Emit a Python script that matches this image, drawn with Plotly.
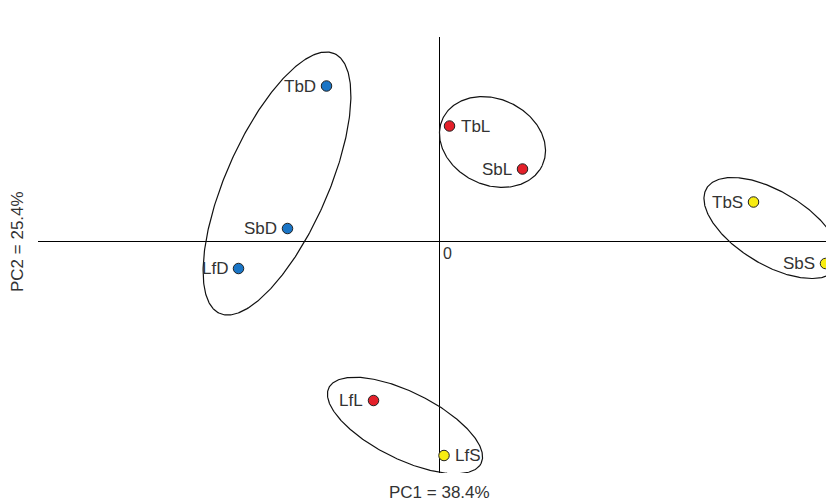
import numpy as np
import plotly.graph_objects as go

# ---- data (arbitrary PCA score units) ----
labels = ["TbD", "SbD", "LfD", "TbL", "SbL", "LfL", "TbS", "SbS", "LfS"]
pc1 = [-2.25, -3.03, -4.01, 0.21, 1.67, -1.31, 6.29, 7.73, 0.10]
pc2 = [3.11, 0.26, -0.54, 2.31, 1.45, -3.18, 0.79, -0.44, -4.28]
groups = ["D", "D", "D", "L", "L", "L", "S", "S", "S"]
label_side = ["left", "left", "left", "right", "left", "left", "left", "left", "right"]
group_colors = {"D": "#1a75c6", "L": "#e4202a", "S": "#f8ec12"}

# ellipses: centre, semi-axes and orientation (degrees)
ell_cx = [-3.24, 1.07, 6.66, -0.68]
ell_cy = [1.16, 1.99, 0.27, -3.68]
ell_a = [2.84, 1.10, 1.53, 1.70]
ell_b = [1.02, 0.86, 0.73, 0.67]
ell_ang = [66.2, -25.2, -31.3, -26.4]

x_title = "PC1 = 38.4%"
y_title = "PC2 = 25.4%"

fig = go.Figure()

t = np.linspace(0, 2 * np.pi, 361)
for cx, cy, a, b, ang in zip(ell_cx, ell_cy, ell_a, ell_b, ell_ang):
    th = np.deg2rad(ang)
    ex = cx + a * np.cos(t) * np.cos(th) - b * np.sin(t) * np.sin(th)
    ey = cy + a * np.cos(t) * np.sin(th) + b * np.sin(t) * np.cos(th)
    fig.add_trace(go.Scatter(x=ex, y=ey, mode="lines",
                             line=dict(color="#111111", width=1.2),
                             hoverinfo="skip", showlegend=False))

fig.add_trace(go.Scatter(
    x=pc1, y=pc2, mode="markers",
    marker=dict(size=10.5, color=[group_colors[g] for g in groups],
                line=dict(color="#222222", width=1)),
    text=labels, hoverinfo="text", showlegend=False, cliponaxis=False))

for x, y, lab, side in zip(pc1, pc2, labels, label_side):
    fig.add_annotation(x=x, y=y, text=lab, showarrow=False,
                       xanchor="right" if side == "left" else "left",
                       yanchor="middle",
                       xshift=-9 if side == "left" else 9,
                       font=dict(size=17, color="#333333"))

fig.add_annotation(x=0, y=0, text="0", showarrow=False, xanchor="left",
                   yanchor="top", xshift=2, yshift=-1,
                   font=dict(size=16, color="#333333"))

fig.add_annotation(x=0, y=0, xref="x", yref="paper", text=x_title,
                   showarrow=False, xanchor="center", yanchor="top", yshift=-8,
                   font=dict(size=17, color="#333333"))
fig.add_annotation(x=0, y=0, xref="paper", yref="y", text=y_title,
                   showarrow=False, textangle=-90, xanchor="right",
                   yanchor="middle", xshift=-9,
                   font=dict(size=17, color="#333333"))

fig.update_xaxes(range=[-8.02, 7.9], showgrid=False, showticklabels=False,
                 ticks="", zeroline=True, zerolinecolor="#000000",
                 zerolinewidth=1, showline=False)
fig.update_yaxes(range=[-4.63, 4.09], showgrid=False, showticklabels=False,
                 ticks="", zeroline=True, zerolinecolor="#000000",
                 zerolinewidth=1, showline=False)

# page body has an 8px default margin: shrink the figure to compensate
fig.update_layout(width=826, height=494,
                  margin=dict(l=30, r=0, t=29, b=29),
                  paper_bgcolor="white", plot_bgcolor="white",
                  font=dict(family="Liberation Sans, Arial, sans-serif"))

fig.write_html("out.html")
